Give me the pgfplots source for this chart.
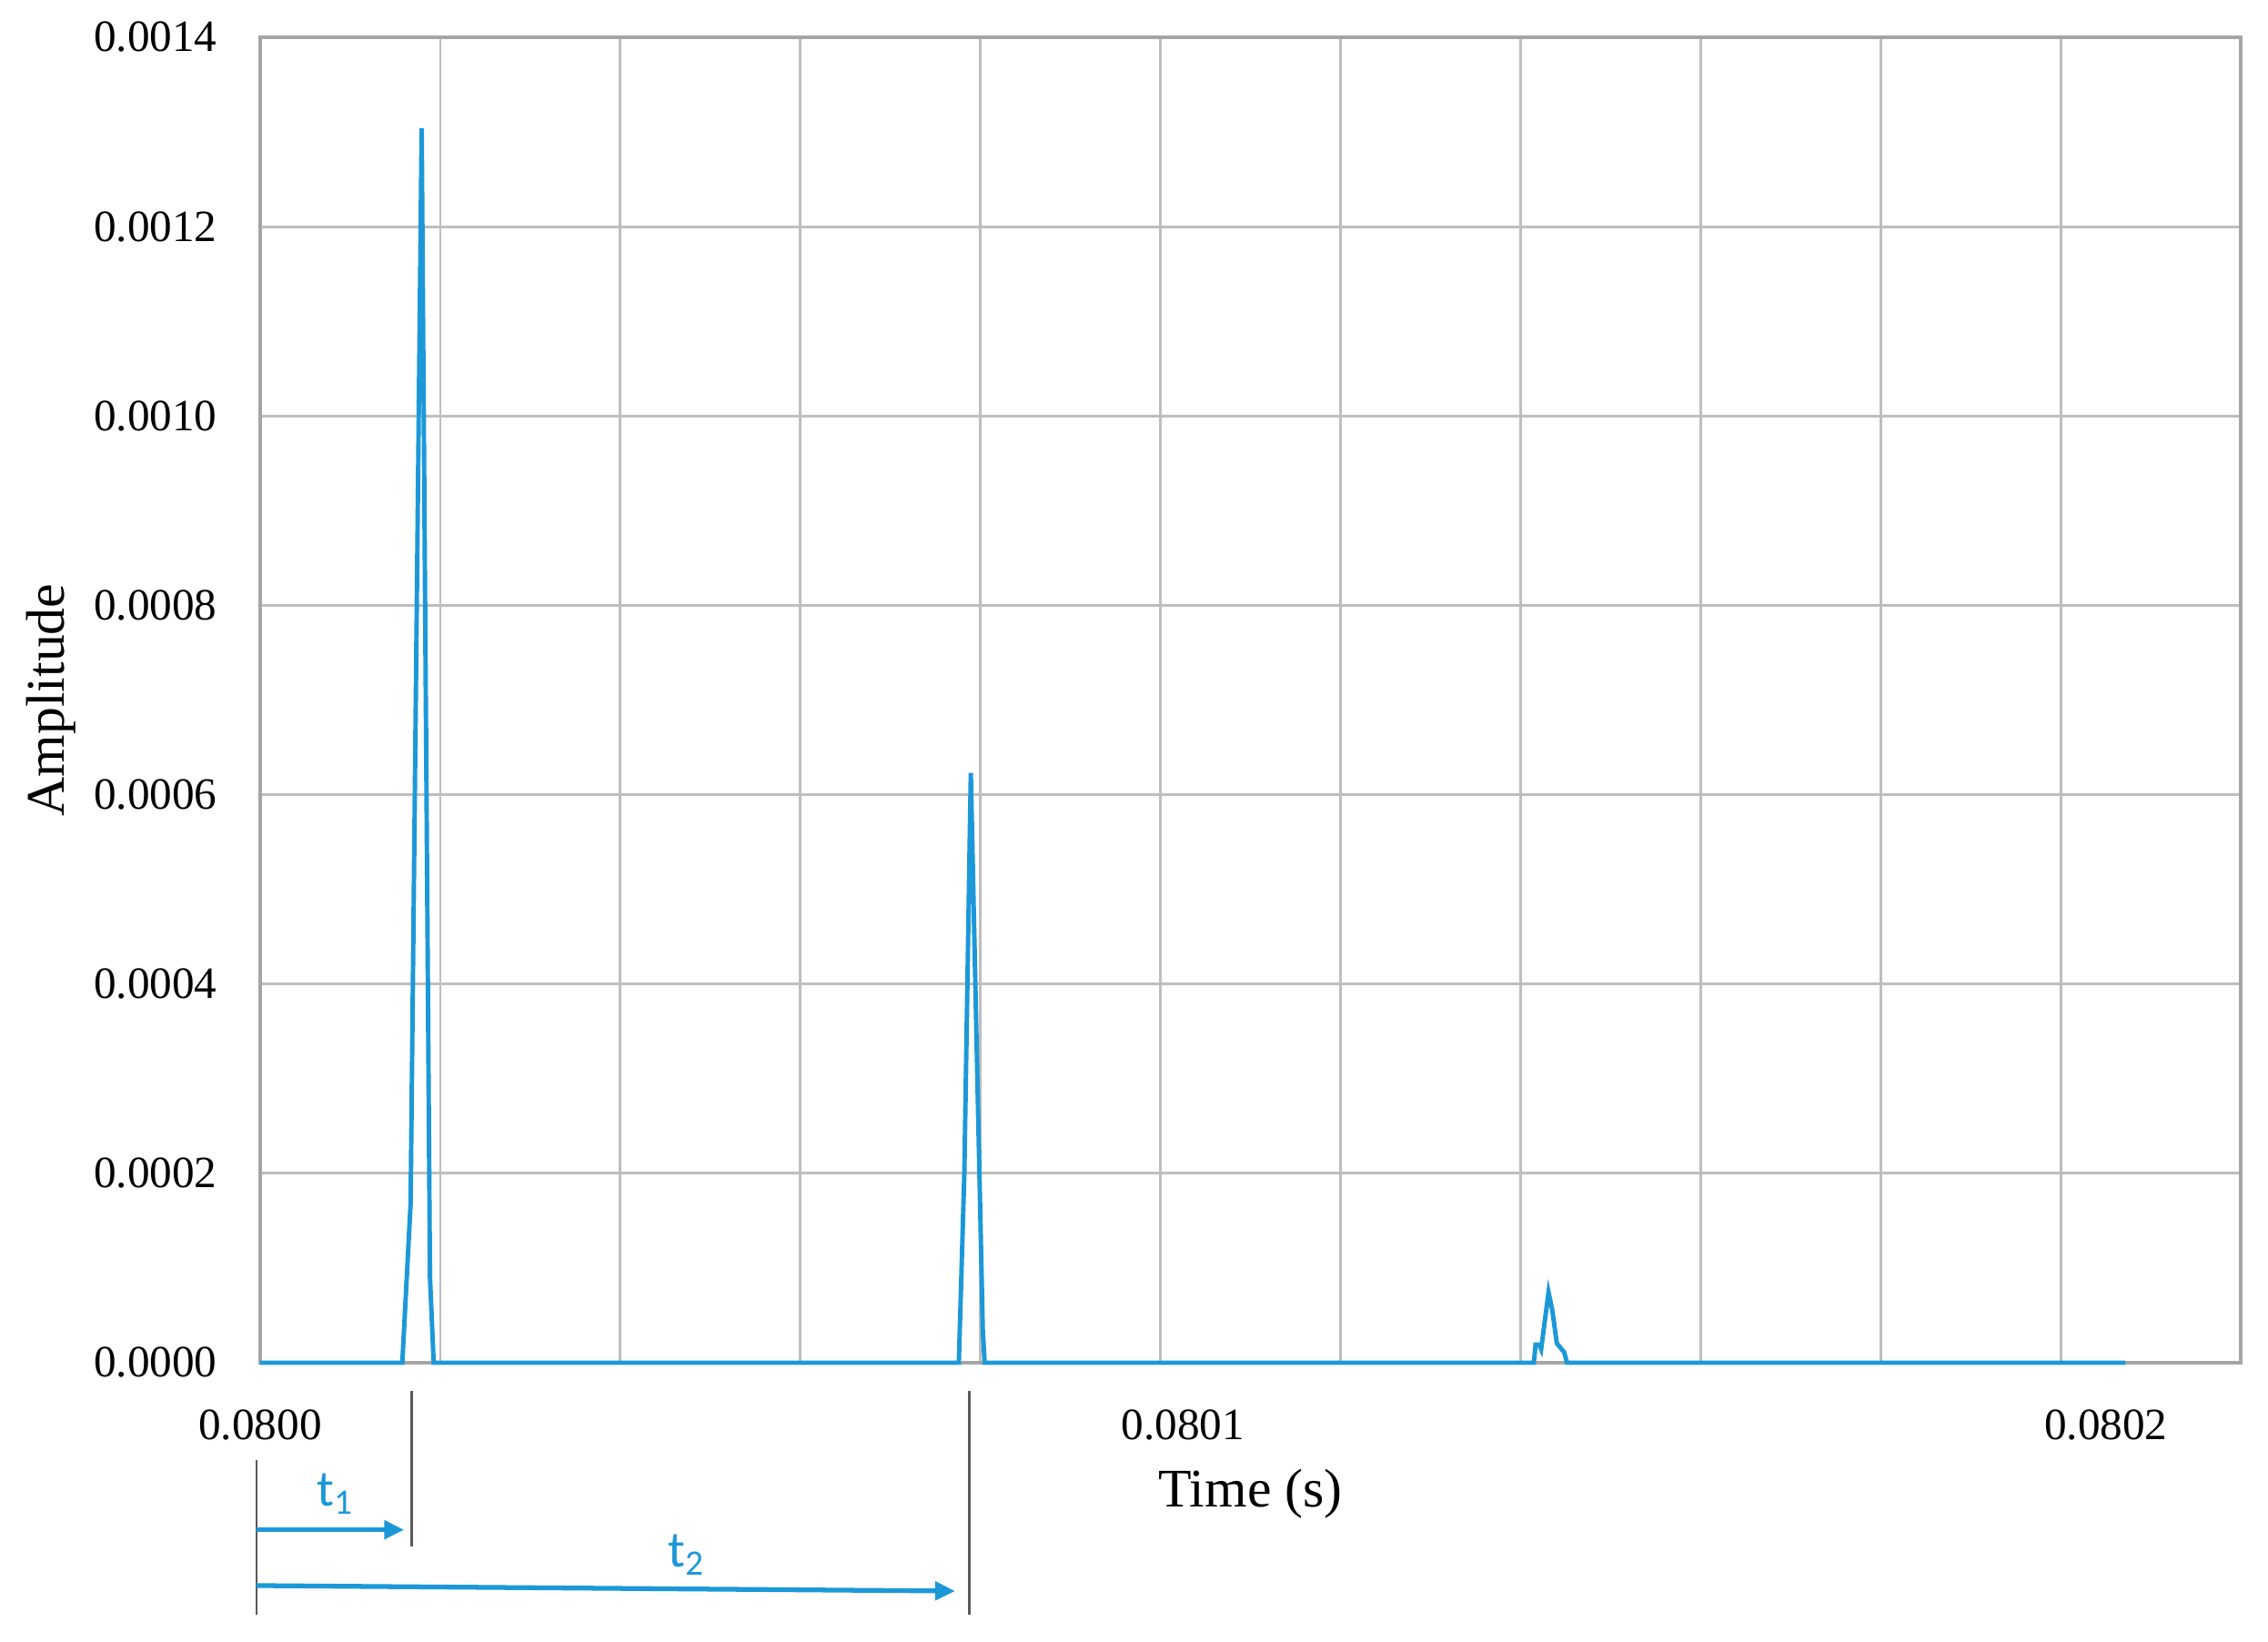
\documentclass[border=0pt]{standalone}
\usepackage{fontspec}
\setmainfont{Liberation Serif}
\newfontfamily\calibfont{Carlito}
\usepackage{pgfplots}
\pgfplotsset{compat=1.18}
\usetikzlibrary{arrows.meta}
\definecolor{sigblue}{RGB}{28,152,216}
\definecolor{gridgray}{RGB}{190,190,190}
\definecolor{framegray}{RGB}{165,165,165}

\begin{document}
\begin{tikzpicture}
% x is time after 0.0800 s, in microseconds
\begin{axis}[
  scale only axis, width=21.77cm, height=14.57cm,
  xmin=0, xmax=214.6, ymin=0, ymax=0.0014,
  clip=false,
  axis line style={draw=framegray, line width=1pt},
  xtick={0,100,200}, xticklabels={0.0800,0.0801,0.0802},
  minor xtick={19.51,39.02,58.53,78.04,97.55,117.05,136.56,156.07,175.58,195.09},
  xminorgrids=true,
  ytick={0,0.0002,0.0004,0.0006,0.0008,0.0010,0.0012,0.0014},
  yticklabels={0.0000,0.0002,0.0004,0.0006,0.0008,0.0010,0.0012,0.0014},
  scaled y ticks=false,
  ymajorgrids=true,
  major tick length=0, minor tick length=0,
  grid style={gridgray, line width=0.8pt},
  minor grid style={gridgray, line width=0.8pt},
  tick label style={font=\fontsize{14}{16}\selectfont},
  yticklabel style={xshift=-0.35cm},
  xticklabel style={yshift=-0.39cm},
  xlabel={Time (s)}, ylabel={Amplitude},
  label style={font=\fontsize{17}{20}\selectfont},
  xlabel style={at={([yshift=-1.44cm]axis description cs:0.5,0)}, anchor=center},
  ylabel style={at={([xshift=-2.30cm]axis description cs:0,0.5)}, anchor=center},
]
\addplot[sigblue, line width=1.4pt] coordinates {
  (0,0) (15.4,0) (16.3,0.000168) (17.5,0.001304) (18.4,0.00009) (18.8,0)
  (75.7,0) (76.3,0.0002) (77.0,0.000623) (78.3,0.0000336) (78.5,0)
  (138.0,0) (138.2,0.0000192) (138.6,0.0000192) (138.8,0.0000144)
  (139.6,0.0000743) (140.0,0.0000557) (140.5,0.0000205) (141.3,0.0000109)
  (141.6,0) (202.1,0)
};

% t1 / t2 markers below the axis
\draw[black!65, line width=0.7pt] (axis cs:-0.4,-1.028e-4) -- (axis cs:-0.4,-2.662e-4);
\draw[black!65, line width=0.7pt] (axis cs:16.42,-2.98e-5) -- (axis cs:16.42,-1.941e-4);
\draw[black!65, line width=0.7pt] (axis cs:76.84,-2.98e-5) -- (axis cs:76.84,-2.662e-4);
\draw[sigblue, line width=1.5pt, -{Triangle[length=0.22cm,width=0.2cm]}]
  (axis cs:-0.4,-1.765e-4) -- (axis cs:15.6,-1.765e-4);
\draw[sigblue, line width=1.5pt, -{Triangle[length=0.22cm,width=0.2cm]}]
  (axis cs:-0.4,-2.354e-4) -- (axis cs:75.3,-2.412e-4);
\node[sigblue, font=\calibfont\fontsize{16}{18}\selectfont] at (axis cs:8.2,-1.384e-4) {t\textsubscript{1}};
\node[sigblue, font=\calibfont\fontsize{16}{18}\selectfont] at (axis cs:46.2,-2.028e-4) {t\textsubscript{2}};
\end{axis}
\path (current axis.south west) ++(-2.86cm,-3.07cm);
\path (current axis.north east) ++(0.30cm,0.41cm);
\end{tikzpicture}
\end{document}
